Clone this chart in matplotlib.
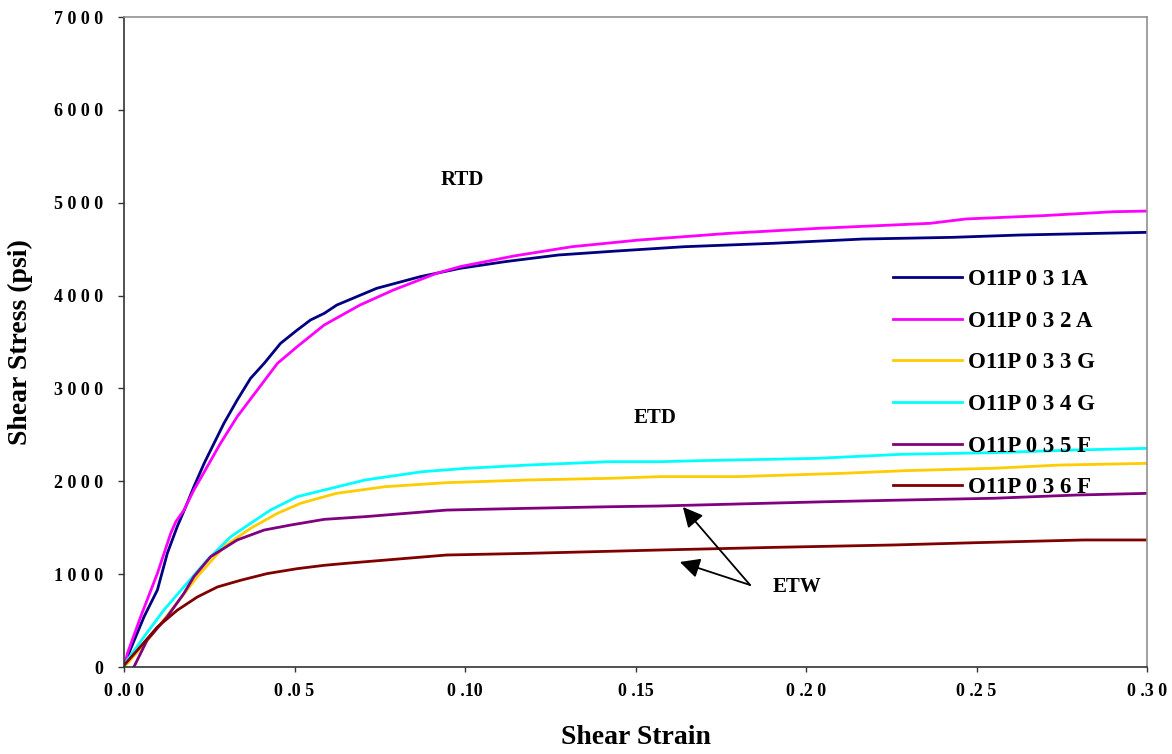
import matplotlib
matplotlib.use("Agg")
import matplotlib.pyplot as plt

# ---------------- data ----------------
strain_31A = [0.0, 0.001, 0.0059, 0.0098, 0.0127, 0.0156, 0.0181, 0.0205, 0.0235, 0.0264, 0.0293,
              0.0332, 0.0371, 0.0411, 0.0459, 0.0508, 0.0547, 0.0587, 0.0624, 0.0741, 0.0868,
              0.0985, 0.1117, 0.1274, 0.1445, 0.1642, 0.1904, 0.2167, 0.2429, 0.2626, 0.30]
stress_31A = [0, 111, 543, 830, 1224, 1511, 1726, 1942, 2193, 2409, 2624,
              2875, 3108, 3270, 3485, 3629, 3737, 3808, 3898, 4078, 4203,
              4293, 4365, 4437, 4480, 4526, 4563, 4609, 4627, 4652, 4681]

strain_32A = [0.0, 0.001, 0.0049, 0.0098, 0.0137, 0.0152, 0.0176, 0.0205, 0.0244, 0.0283, 0.0332,
              0.0391, 0.045, 0.0508, 0.0587, 0.0692, 0.079, 0.0917, 0.0985, 0.1143, 0.1313,
              0.151, 0.1773, 0.2035, 0.2364, 0.2469, 0.2692, 0.2902, 0.30]
stress_32A = [0, 147, 543, 1009, 1440, 1565, 1691, 1906, 2157, 2409, 2696,
              2983, 3270, 3450, 3683, 3898, 4060, 4240, 4311, 4426, 4526,
              4598, 4670, 4724, 4778, 4825, 4860, 4903, 4910]

strain_33G = [0.0, 0.001, 0.0078, 0.0147, 0.0215, 0.0293, 0.0371, 0.045, 0.0518, 0.0587, 0.0623,
              0.0766, 0.0946, 0.1185, 0.1425, 0.1572, 0.1797, 0.2109, 0.2295, 0.2549, 0.2745, 0.30]
stress_33G = [0, 39, 327, 650, 973, 1296, 1493, 1655, 1763, 1834, 1870,
              1942, 1985, 2014, 2032, 2050, 2050, 2086, 2115, 2140, 2175, 2193]

strain_34G = [0.0, 0.001, 0.0059, 0.0117, 0.0176, 0.0244, 0.0313, 0.0371, 0.043, 0.0508, 0.0587,
              0.0707, 0.0874, 0.1006, 0.1185, 0.1425, 0.1572, 0.1689, 0.2031, 0.2276, 0.2549,
              0.2793, 0.30]
stress_34G = [0, 75, 327, 614, 865, 1152, 1403, 1547, 1691, 1834, 1906,
              2014, 2103, 2140, 2175, 2211, 2211, 2222, 2247, 2290, 2308,
              2337, 2355]

strain_35F = [0.0029, 0.0068, 0.0127, 0.0176, 0.0205, 0.0254, 0.0332, 0.0411, 0.0489, 0.0587,
              0.0707, 0.0946, 0.1185, 0.1425, 0.1572, 0.1689, 0.206, 0.2285, 0.2549, 0.2793, 0.30]
stress_35F = [0, 291, 543, 794, 973, 1188, 1368, 1475, 1529, 1590,
              1619, 1690, 1709, 1726, 1734, 1745, 1780, 1798, 1817, 1852, 1870]

strain_36F = [0.0, 0.0039, 0.0098, 0.0156, 0.0215, 0.0274, 0.0342, 0.042, 0.0508, 0.0587, 0.0653,
              0.0946, 0.1185, 0.1572, 0.1914, 0.2256, 0.25, 0.2813, 0.30]
stress_36F = [18, 180, 431, 611, 754, 862, 934, 1006, 1059, 1095, 1117,
              1206, 1224, 1260, 1289, 1314, 1339, 1368, 1368]

series_labels = ["O11P 0 3 1A", "O11P 0 3 2 A", "O11P 0 3 3 G",
                 "O11P 0 3 4 G", "O11P 0 3 5 F", "O11P 0 3 6 F"]
series_colors = ["#000080", "#FF00FF", "#FFCC00", "#00FFFF", "#800080", "#800000"]

x_ticks = [0.0, 0.05, 0.10, 0.15, 0.20, 0.25, 0.30]
x_tick_labels = ["0 .0 0", "0 .0 5", "0 .10", "0 .15", "0 .2 0", "0 .2 5", "0 .3 0"]
y_ticks = [0, 1000, 2000, 3000, 4000, 5000, 6000, 7000]
y_tick_labels = ["0", "1 0 0 0", "2 0 0 0", "3 0 0 0", "4 0 0 0", "5 0 0 0", "6 0 0 0", "7 0 0 0"]

# ---------------- figure ----------------
W, H = 1172, 754
fig = plt.figure(figsize=(W / 100, H / 100), dpi=100)
ax = fig.add_axes([124 / W, (H - 667) / H, (1147 - 124) / W, (667 - 17) / H])

serif = ["Liberation Serif", "DejaVu Serif"]

xs = [strain_31A, strain_32A, strain_33G, strain_34G, strain_35F, strain_36F]
ys = [stress_31A, stress_32A, stress_33G, stress_34G, stress_35F, stress_36F]
for x, y, lab, col in zip(xs, ys, series_labels, series_colors):
    ax.plot(x, y, color=col, lw=2.0, label=lab, solid_joinstyle="round")

ax.set_xlim(0, 0.30)
ax.set_ylim(0, 7000)
ax.set_xticks(x_ticks)
ax.set_xticklabels(x_tick_labels)
ax.set_yticks(y_ticks)
ax.set_yticklabels(y_tick_labels)
for lbl in ax.get_xticklabels() + ax.get_yticklabels():
    lbl.set_fontfamily(serif)
    lbl.set_fontweight("bold")
    lbl.set_fontsize(13)
ax.tick_params(axis="y", direction="out", length=4, width=1, pad=11, colors="#333333",
               labelcolor="black")
ax.tick_params(axis="x", direction="out", length=3.5, width=1, pad=8, colors="#333333",
               labelcolor="black")

for side in ["left", "bottom"]:
    ax.spines[side].set_color("#333333")
    ax.spines[side].set_linewidth(1.2)
for side in ["top", "right"]:
    ax.spines[side].set_color("#909090")
    ax.spines[side].set_linewidth(1.2)

# legend
leg = ax.legend(loc="upper left", bbox_to_anchor=(893 / W, (H - 269) / H),
                bbox_transform=fig.transFigure, frameon=False,
                prop={"family": serif, "weight": "bold", "size": 16.5},
                handlelength=3.0, handletextpad=0.27, labelspacing=0.9,
                borderaxespad=0, borderpad=0)

# annotations
txt_kw = dict(fontfamily=serif, fontweight="bold", fontsize=15, ha="center", va="center")
ax.text(0.0991, 5244, "RTD", **txt_kw)
ax.text(0.1557, 2681, "ETD", **txt_kw)
ax.text(0.1974, 861, "ETW", **txt_kw)
arrow_kw = dict(arrowstyle="-|>", color="black", lw=1.3, mutation_scale=30,
                shrinkA=0, shrinkB=0)
ax.annotate("", xy=(0.1639, 1723), xytext=(0.1836, 883), arrowprops=arrow_kw)
ax.annotate("", xy=(0.1630, 1131), xytext=(0.1836, 883), arrowprops=arrow_kw)

# axis titles
fig.text(636 / W, (H - 738) / H, "Shear Strain", fontfamily=serif, fontweight="bold",
         fontsize=20, ha="center", va="center")
fig.text(20 / W, (H - 342) / H, "Shear Stress (psi)", fontfamily=serif, fontweight="bold",
         fontsize=20, ha="center", va="center", rotation=90)

fig.savefig("out.png", dpi=100)
